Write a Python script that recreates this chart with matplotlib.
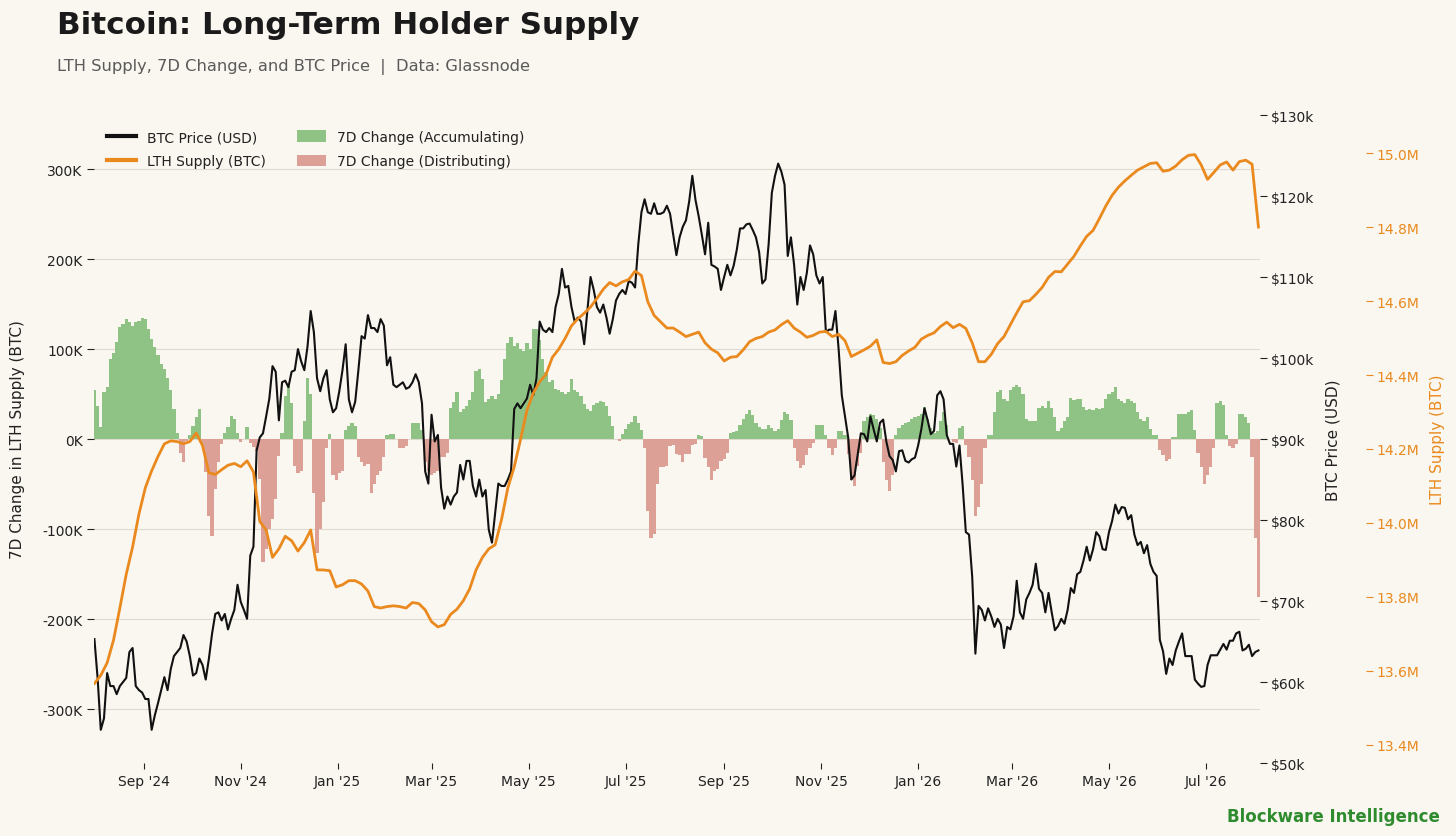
import matplotlib
matplotlib.use("Agg")
import matplotlib.pyplot as plt
from matplotlib.lines import Line2D
from matplotlib.patches import Patch
import pandas as pd
import numpy as np

plt.rcParams['font.family'] = ['DejaVu Sans']

# ---------------- data ----------------
start_date = "2024-08-01"

# BTC price ($k) and 7-day change in LTH supply (thousand BTC), every 2 days from 2024-08-01
step_2d = 2
price_usd_k = [
    65.3, 60.5, 54.1, 55.5, 61.1, 59.5, 59.5, 58.5, 59.5, 60.0,
    60.5, 63.7, 64.2, 59.5, 59.0, 58.7, 57.9, 57.9, 54.1, 55.9,
    57.4, 59.0, 60.6, 59.0, 61.6, 63.2, 63.7, 64.2, 65.8, 65.0,
    63.2, 60.8, 61.1, 62.9, 62.1, 60.3, 62.9, 66.0, 68.4, 68.6,
    67.6, 68.4, 66.5, 67.8, 68.9, 72.0, 69.9, 68.9, 67.8, 75.6,
    76.7, 88.6, 90.2, 90.7, 92.8, 95.0, 99.0, 98.3, 92.3, 97.0,
    97.2, 96.4, 98.3,
    98.5, 101.1, 99.6, 98.5, 101.4, 105.8, 103.2, 97.5, 95.9, 97.5,
    98.5, 94.9, 93.3, 93.8, 95.9, 98.5, 101.7, 94.9, 93.3, 94.6,
    98.5, 102.7, 102.4, 105.3, 103.7, 103.7, 103.2, 104.8, 104.0, 99.1,
    100.1, 96.7, 96.4, 96.7, 97.0, 96.2, 96.4, 97.0, 98.0, 97.0,
    94.4, 86.0, 84.5, 93.0, 89.7, 90.5, 84.0, 81.4, 82.9, 81.9,
    82.9, 83.4, 86.8, 85.0, 87.3, 87.3, 84.2, 82.9, 85.0, 82.9,
    83.7, 78.8,
    77.2, 80.8, 84.5, 84.2, 84.2, 85.0, 86.0, 93.7, 94.4, 93.8,
    94.4, 95.0, 96.7, 95.4, 97.5, 104.5, 103.5, 103.2, 103.7, 103.2,
    106.3, 107.9, 111.0, 108.7, 108.9, 106.3, 104.5, 105.0, 104.5, 101.7,
    105.8, 110.0, 108.4, 106.3, 105.6, 106.6, 105.0, 103.0, 104.8, 107.1,
    107.9, 108.4, 107.9, 109.5, 109.3, 108.7, 114.0, 118.0, 119.6, 118.0,
    117.8, 119.1, 117.8, 117.8, 118.0, 118.8, 117.8, 115.2, 112.7, 114.9,
    116.2, 117.0, 119.3, 122.5, 119.5,
    117.5, 115.2, 112.8, 116.7, 111.5, 111.3, 111.0, 108.4, 110.0, 111.5,
    110.2, 111.4, 113.4, 116.0, 116.0, 116.5, 116.6, 115.8, 114.9, 113.1,
    109.2, 109.7, 114.1, 120.4, 122.5, 124.0, 123.0, 121.4, 112.6, 114.9,
    111.5, 106.6, 110.0, 108.4, 110.5, 113.9, 112.8, 110.2, 109.2, 110.0,
    103.2, 103.5, 103.5, 105.8, 101.1, 95.4, 92.8, 90.2, 85.0, 85.5,
    88.1, 90.7, 90.6, 89.7, 92.8, 91.2, 89.7, 92.0, 92.4, 89.7,
    87.9, 87.4,
    86.0, 88.5, 88.6, 87.3, 87.1, 87.5, 87.7, 89.2, 91.2, 93.8,
    92.3, 90.6, 91.0, 95.4, 95.9, 94.9, 90.5, 89.4, 89.4, 86.6,
    89.2, 84.3, 78.5, 78.2, 73.0, 63.5, 69.4, 68.9, 67.6, 69.1,
    68.1, 66.8, 67.8, 67.1, 64.2, 66.8, 66.5, 68.1, 72.5, 68.6,
    67.8, 70.2, 71.0, 72.0, 74.6, 71.5, 71.0, 68.6, 71.0, 68.6,
    66.4, 66.9, 67.8, 67.2, 68.9, 71.6, 71.0, 73.3, 73.6, 75.0,
    76.7, 75.0,
    76.4, 78.5, 78.0, 76.4, 76.3, 78.5, 79.9, 81.9, 80.8, 81.6,
    81.5, 80.1, 80.6, 78.2, 76.9, 77.3, 75.9, 76.9, 74.6, 73.6,
    73.1, 65.2, 63.8, 61.0, 62.9, 62.1, 63.9, 65.0, 66.0, 63.2,
    63.2, 63.2, 60.3, 59.8, 59.4, 59.5, 62.1, 63.3, 63.3, 63.3,
    64.0, 64.7, 64.0, 65.1, 65.1, 66.0, 66.2, 63.9, 64.1, 64.6,
    63.2, 63.7, 63.9,
]

change_7d_k = [
    55, 37, 13, 52, 58, 89, 96, 108, 124, 128,
    133, 130, 126, 130, 131, 135, 133, 122, 111, 102,
    93, 83, 78, 68, 55, 33, 7, -15, -26, -2,
    4, 15, 24, 33, -7, -37, -85, -108, -56, -26,
    -6, 7, 13, 26, 22, 7, -3, 0, 13, -4,
    -9, -13, -44, -137, -122, -100, -89, -67, -19, 7,
    48, 59, 40,
    -30, -38, -35, 20, 68, 50, -60, -127, -100, -70,
    -10, 6, -40, -45, -38, -35, 10, 15, 18, 15,
    -20, -25, -30, -28, -60, -50, -40, -35, -20, 5,
    6, 6, 0, -10, -10, -8, 0, 18, 18, 18,
    10, -25, -35, -40, -38, -35, -20, -20, -15, 35,
    41, 52, 30, 33, 37, 43, 52, 76, 78, 67,
    41, 44,
    48, 44, 50, 66, 89, 107, 113, 103, 107, 100,
    98, 107, 100, 122, 122, 110, 89, 74, 63, 66,
    56, 54, 52, 50, 52, 67, 55, 52, 48, 39,
    33, 31, 38, 40, 42, 41, 37, 26, 15, 0,
    -2, 6, 11, 17, 19, 26, 18, 10, -10, -80,
    -110, -106, -50, -31, -31, -30, -8, -7, -17, -18,
    -26, -17, -17, -7, -5,
    4, 3, -21, -31, -45, -36, -33, -24, -22, -15,
    7, 8, 9, 16, 22, 28, 32, 27, 18, 13,
    11, 11, 16, 12, 9, 11, 21, 30, 28, 21,
    -10, -24, -32, -29, -18, -10, -4, 16, 16, 16,
    5, -10, -18, -10, 9, 9, 5, -17, -45, -52,
    -30, -15, 20, 24, 28, 27, 22, 12, -25, -45,
    -58, -40,
    5, 12, 16, 18, 19, 22, 25, 26, 28, 36,
    22, 12, 7, 9, 20, 30, 16, 0, -3, -4,
    12, 14, -7, -20, -45, -85, -75, -50, -10, 4,
    4, 30, 52, 55, 45, 42, 55, 58, 60, 58,
    50, 22, 20, 20, 20, 35, 37, 35, 42, 35,
    25, 9, 12, 20, 25, 46, 43, 45, 45, 36,
    32, 33,
    32, 34, 33, 35, 45, 50, 52, 58, 45, 42,
    40, 44, 42, 40, 30, 22, 20, 25, 11, 5,
    5, -12, -18, -24, -22, 2, 2, 28, 28, 28,
    30, 32, 10, -15, -31, -50, -40, -31, -10, 40,
    42, 38, 5, -8, -10, -5, 28, 28, 25, 18,
    -20, -110, -175,
]

# Long-term holder supply, millions of BTC, every 4 days from 2024-08-01
step_4d = 4
lth_supply_m = [
    13.566, 13.588, 13.622, 13.683, 13.770, 13.861, 13.935, 14.024, 14.095, 14.141, 14.180, 14.214,
    14.222, 14.220, 14.214, 14.220, 14.243, 14.209, 14.136, 14.131, 14.144, 14.156, 14.161, 14.152,
    14.168, 14.138, 14.004, 13.981, 13.907, 13.930, 13.964, 13.952,
    13.924, 13.947, 13.981, 13.873, 13.873, 13.871, 13.827, 13.833, 13.844, 13.844, 13.835, 13.816,
    13.774, 13.770, 13.774, 13.776, 13.774, 13.770, 13.785, 13.782, 13.765, 13.733, 13.719, 13.725,
    13.753, 13.767, 13.790, 13.822, 13.873, 13.907, 13.930,
    13.941, 14.009, 14.095, 14.152, 14.226, 14.305, 14.351, 14.382, 14.402, 14.448, 14.470, 14.499,
    14.533, 14.552, 14.567, 14.584, 14.607, 14.632, 14.650, 14.641, 14.652, 14.658, 14.681, 14.669,
    14.598, 14.561, 14.544, 14.527, 14.527, 14.516, 14.504, 14.510,
    14.516, 14.487, 14.470, 14.460, 14.438, 14.448, 14.450, 14.468, 14.490, 14.499, 14.504, 14.516,
    14.522, 14.536, 14.547, 14.527, 14.516, 14.502, 14.507, 14.516, 14.518, 14.504, 14.510, 14.493,
    14.450, 14.459, 14.468, 14.478, 14.495, 14.434, 14.431,
    14.436, 14.453, 14.465, 14.475, 14.497, 14.507, 14.514, 14.531, 14.543, 14.528, 14.537, 14.526,
    14.487, 14.436, 14.436, 14.456, 14.485, 14.504, 14.536, 14.568, 14.598, 14.601, 14.618, 14.637,
    14.664, 14.680, 14.679, 14.700, 14.721, 14.749, 14.775,
    14.791, 14.823, 14.857, 14.886, 14.908, 14.925, 14.940, 14.954, 14.963, 14.972, 14.974, 14.951,
    14.954, 14.965, 14.982, 14.994, 14.996, 14.968, 14.929, 14.948, 14.968, 14.976, 14.954, 14.977,
    14.981, 14.970, 14.800,
]

left_ticks = [-300, -200, -100, 0, 100, 200, 300]
price_ticks = [50, 60, 70, 80, 90, 100, 110, 120, 130]
lth_ticks = [13.4, 13.6, 13.8, 14.0, 14.2, 14.4, 14.6, 14.8, 15.0]

dates_2d = pd.date_range(start_date, periods=len(price_usd_k), freq=f"{step_2d}D")
dates_4d = pd.date_range(start_date, periods=len(lth_supply_m), freq=f"{step_4d}D")

# ---------------- style ----------------
BG = "#FAF6F0"
GREEN = "#8FC386"
RED = "#DCA096"
ORANGE = "#EA8A1E"
BLACK = "#111111"
TXT = "#222222"

fig = plt.figure(figsize=(14.56, 8.37), dpi=100, facecolor=BG)
ax = fig.add_axes([0.0643, 0.0872, 0.8011, 0.7742])
ax.set_facecolor(BG)

chg = np.array(change_7d_k, dtype=float)
bar_colors = [GREEN if v >= 0 else RED for v in chg]
ax.bar(dates_2d, chg, width=step_2d, color=bar_colors, linewidth=0, align="center", zorder=2)
ax.set_ylim(-360, 360)
ax.set_yticks(left_ticks)
ax.set_yticklabels([f"{t}K" for t in left_ticks])
ax.grid(axis="y", color="#DFD9D0", linewidth=0.8, zorder=0)
ax.set_axisbelow(True)
ax.set_xlim(dates_2d[0] - pd.Timedelta(days=0.5), dates_2d[-1] + pd.Timedelta(days=1))

xt = pd.date_range("2024-09-01", "2026-07-01", freq="2MS")
ax.set_xticks(xt)
ax.set_xticklabels([d.strftime("%b '%y") for d in xt])

ax.tick_params(axis="x", length=4, width=0.8, color=TXT, labelsize=10, labelcolor=TXT, pad=4)
ax.tick_params(axis="y", length=5, width=0.8, color=TXT, labelsize=10, labelcolor=TXT, pad=3)
ax.set_ylabel("7D Change in LTH Supply (BTC)", fontsize=11, color=TXT)
ax.yaxis.set_label_coords(-0.059, 0.5)

ax2 = ax.twinx()
ax2.plot(dates_2d, price_usd_k, color=BLACK, lw=1.5, zorder=3)
ax2.set_ylim(50, 130)
ax2.set_yticks(price_ticks)
ax2.set_yticklabels([f"${t}k" for t in price_ticks])
ax2.tick_params(axis="y", length=5, width=0.8, color=TXT, labelsize=10, labelcolor=TXT, pad=3)
ax2.set_ylabel("BTC Price (USD)", fontsize=11, color=TXT)
ax2.yaxis.set_label_coords(1.056, 0.5)

ax3 = ax.twinx()
ax3.plot(dates_4d, lth_supply_m, color=ORANGE, lw=2.0, zorder=4)
ax3.set_ylim(13.351, 15.103)
ax3.set_yticks(lth_ticks)
ax3.set_yticklabels([f"{t:.1f}M" for t in lth_ticks])
ax3.spines["right"].set_position(("outward", 76))
ax3.tick_params(axis="y", length=5, width=0.8, color=ORANGE, labelsize=10, labelcolor=ORANGE, pad=3)
ax3.set_ylabel("LTH Supply (BTC)", fontsize=11, color=ORANGE)
ax3.yaxis.set_label_coords(1.146, 0.5)

for a in (ax, ax2, ax3):
    for s in a.spines.values():
        s.set_visible(False)

handles = [
    Line2D([0], [0], color=BLACK, lw=3),
    Line2D([0], [0], color=ORANGE, lw=3),
    Patch(facecolor=GREEN, edgecolor="none"),
    Patch(facecolor=RED, edgecolor="none"),
]
labels = ["BTC Price (USD)", "LTH Supply (BTC)", "7D Change (Accumulating)", "7D Change (Distributing)"]
leg = ax3.legend(handles, labels, loc="upper left", bbox_to_anchor=(0.002, 0.994), ncol=2,
                 frameon=False, fontsize=10, handlelength=2.1, handleheight=0.9,
                 columnspacing=2.2, labelspacing=0.75, borderaxespad=0.4)
for t in leg.get_texts():
    t.set_color(TXT)

fig.text(0.0391, 0.969, "Bitcoin: Long-Term Holder Supply", fontsize=22.3, fontweight="bold",
         color="#1A1A1A", va="center", ha="left")
fig.text(0.0391, 0.920, "LTH Supply, 7D Change, and BTC Price  |  Data: Glassnode", fontsize=11.7,
         color="#5A5A5A", va="center", ha="left")
fig.text(0.989, 0.024, "Blockware Intelligence", fontsize=12, fontweight="bold",
         color="#2E8B2E", va="center", ha="right")

fig.savefig("out.png", dpi=100, facecolor=BG)
